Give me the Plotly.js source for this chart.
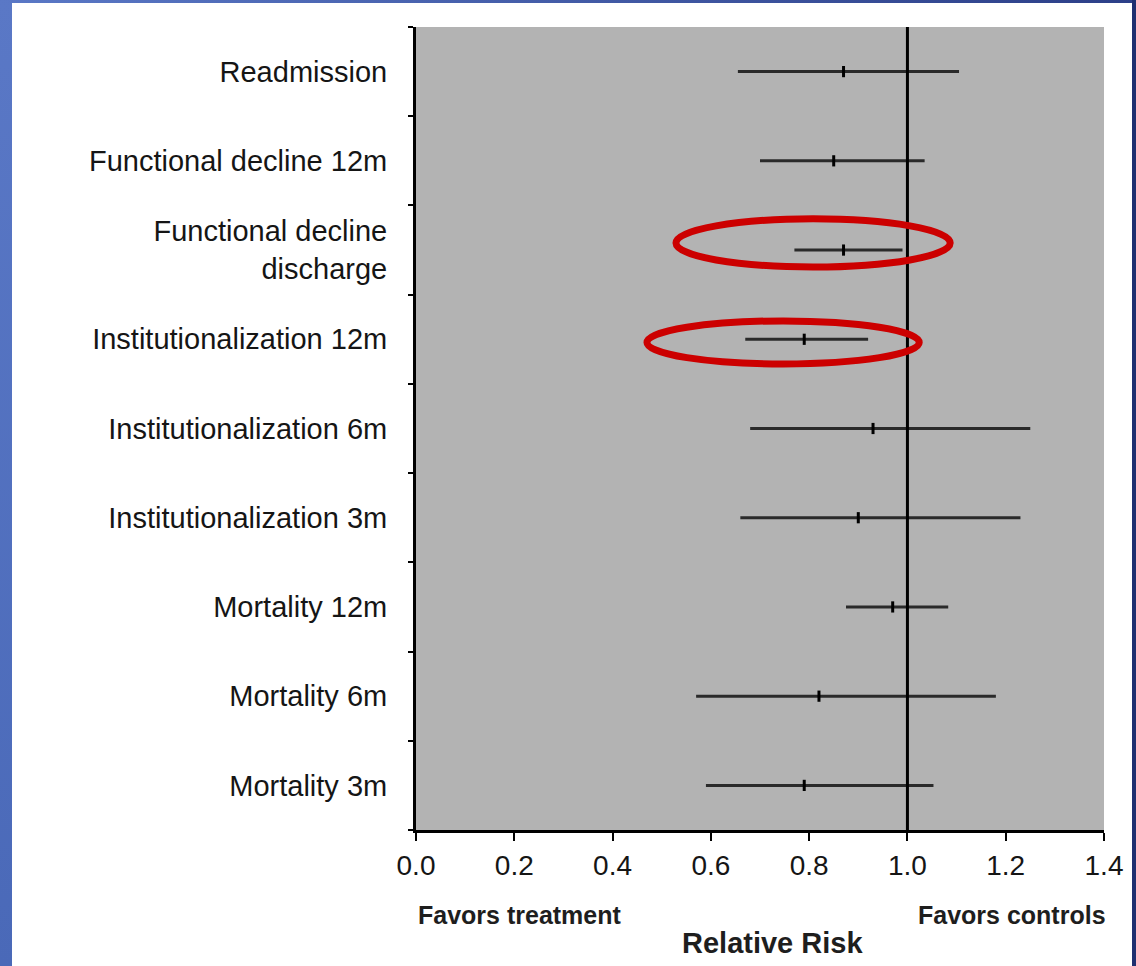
<!DOCTYPE html>
<html>
<head>
<meta charset="utf-8">
<script src="https://cdn.plot.ly/plotly-3.0.1.min.js"></script>
<style>
  html, body { margin: 0; padding: 0; background: #ffffff; }
  #frame { position: absolute; left: 0; top: 0; width: 1136px; height: 966px; overflow: hidden; }
  #bl { position: absolute; left: 0; top: 0; width: 12px; height: 966px; background: linear-gradient(180deg, #5a78c6, #4a69b8); }
  #bt { position: absolute; left: 0; top: 0; width: 1136px; height: 3px; background: linear-gradient(90deg, #5a78c6, #2c3f88); }
  #br { position: absolute; right: 0; top: 0; width: 4px; height: 966px; background: #1f2f70; }
  #chart { position: absolute; left: 0; top: 0; width: 1136px; height: 966px; }
</style>
</head>
<body>
<div id="frame">
  <div id="bl"></div><div id="bt"></div><div id="br"></div>
  <div id="chart"></div>
</div>
<script>
// Outcomes listed bottom to top
var outcomes = [
  "Mortality 3m",
  "Mortality 6m",
  "Mortality 12m",
  "Institutionalization 3m",
  "Institutionalization 6m",
  "Institutionalization 12m",
  "Functional decline<br>discharge",
  "Functional decline 12m",
  "Readmission"
];
var relativeRisk = [0.79, 0.82, 0.97, 0.90, 0.93, 0.79, 0.87, 0.85, 0.87];
var ciLower      = [0.59, 0.57, 0.875, 0.66, 0.68, 0.67, 0.77, 0.70, 0.655];
var ciUpper      = [1.053, 1.18, 1.083, 1.23, 1.25, 0.92, 0.99, 1.035, 1.105];
var xTicks = [0, 0.2, 0.4, 0.6, 0.8, 1.0, 1.2, 1.4];

var errPlus = relativeRisk.map(function (v, i) { return ciUpper[i] - v; });
var errMinus = relativeRisk.map(function (v, i) { return v - ciLower[i]; });

var trace = {
  type: "scatter",
  mode: "markers",
  x: relativeRisk,
  y: outcomes,
  marker: { symbol: "line-ns", size: 8, color: "#000", line: { color: "#000", width: 3 } },
  error_x: {
    type: "data", symmetric: false,
    array: errPlus, arrayminus: errMinus,
    width: 0, thickness: 3, color: "#2a2a2a"
  },
  hoverinfo: "x+y",
  showlegend: false
};

var font = "'Liberation Sans', Arial, Helvetica, sans-serif";

var layout = {
  width: 1136, height: 966,
  margin: { l: 416, r: 32, t: 27, b: 136 },
  paper_bgcolor: "rgba(0,0,0,0)",
  plot_bgcolor: "#b3b3b3",
  font: { family: font, color: "#151515" },
  showlegend: false,
  xaxis: {
    range: [0, 1.4],
    tickvals: xTicks,
    tickformat: ".1f",
    showgrid: false, zeroline: false,
    showline: true, linecolor: "#000", linewidth: 3,
    ticks: "outside", ticklen: 8, tickwidth: 2, tickcolor: "#000",
    tickfont: { size: 28, family: font, color: "#151515" },
    fixedrange: true
  },
  yaxis: {
    type: "category",
    categoryorder: "array",
    categoryarray: outcomes,
    range: [-0.5, outcomes.length - 0.5],
    tickson: "boundaries",
    showgrid: false, zeroline: false,
    showline: true, linecolor: "#000", linewidth: 3,
    ticks: "outside", ticklen: 5, tickwidth: 2, tickcolor: "#000",
    ticklabelstandoff: 20,
    tickfont: { size: 29, family: font, color: "#151515" },
    fixedrange: true
  },
  shapes: [
    { type: "line", xref: "x", yref: "paper", x0: 1, x1: 1, y0: 0, y1: 1,
      line: { color: "#000", width: 3 } },
    { type: "circle", xref: "x", yref: "y", x0: 0.529, x1: 1.087, y0: 5.81, y1: 6.35,
      line: { color: "#cc0000", width: 7 } },
    { type: "circle", xref: "x", yref: "y", x0: 0.470, x1: 1.024, y0: 4.724, y1: 5.206,
      line: { color: "#cc0000", width: 7 } }
  ],
  annotations: [
    { text: "Favors treatment", xref: "x", yref: "paper", x: 0, y: -0.106,
      xanchor: "left", yanchor: "middle", showarrow: false,
      font: { size: 25, family: font, color: "#1e1e1e", weight: "bold" } },
    { text: "Favors controls", xref: "x", yref: "paper", x: 1.4, y: -0.106,
      xanchor: "right", yanchor: "middle", xshift: 4, showarrow: false,
      font: { size: 25, family: font, color: "#1e1e1e", weight: "bold" } },
    { text: "Relative Risk", xref: "x", yref: "paper", x: 0.725, y: -0.141,
      xanchor: "center", yanchor: "middle", showarrow: false,
      font: { size: 29, family: font, color: "#1e1e1e", weight: "bold" } }
  ]
};

Plotly.newPlot("chart", [trace], layout, { displayModeBar: false, staticPlot: true });
</script>
</body>
</html>
